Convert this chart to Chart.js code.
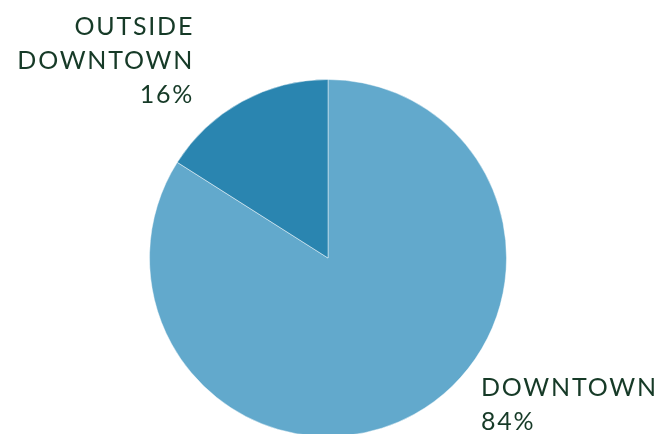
<!DOCTYPE html>
<html><head><meta charset="utf-8">
<script src="https://cdn.jsdelivr.net/npm/chart.js@4/dist/chart.umd.min.js"></script>
<style>
html,body{margin:0;padding:0;background:#fff;overflow:hidden;width:670px;height:434px}
#wrap{position:relative;width:670px;height:440px}
</style></head><body>
<div id="wrap"><canvas id="c"></canvas></div>
<script>
const categories = ["DOWNTOWN", "OUTSIDE DOWNTOWN"];
const values = [84, 16];
const labelLines = [["DOWNTOWN", "84%"], ["OUTSIDE", "DOWNTOWN", "16%"]];
const colors = ["#62A9CC", "#2A85B0"];

const labelPlugin = {
  id: 'sliceLabels',
  afterDraw(chart) {
    const ctx = chart.ctx;
    const meta = chart.getDatasetMeta(0);
    const arc0 = meta.data[0];
    const cx = arc0.x, cy = arc0.y, r = arc0.outerRadius;
    const ls = 1.8;
    ctx.save();
    ctx.fillStyle = "#163A27";
    ctx.font = "25px 'Lato', sans-serif";
    ctx.letterSpacing = ls + "px";
    ctx.textBaseline = "alphabetic";
    // DOWNTOWN label (bottom right)
    ctx.textAlign = "left";
    labelLines[0].forEach((t, i) => ctx.fillText(t, cx + r * 0.857, cy + 138 + i * 34));
    // OUTSIDE label (top left)
    ctx.textAlign = "right";
    labelLines[1].forEach((t, i) => ctx.fillText(t, cx - r * 0.76 + ls, cy - 223 + i * 34));
    ctx.restore();
  }
};

new Chart(document.getElementById('c'), {
  type: 'pie',
  data: {
    labels: categories,
    datasets: [{
      data: values,
      backgroundColor: colors,
      borderColor: "rgba(255,255,255,0.45)",
      borderWidth: 1
    }]
  },
  options: {
    responsive: true,
    maintainAspectRatio: false,
    animation: false,
    layout: { padding: { top: 79, bottom: 3, left: 0, right: 14 } },
    plugins: { legend: { display: false }, tooltip: { enabled: false } }
  },
  plugins: [labelPlugin]
});
</script>
</body></html>
